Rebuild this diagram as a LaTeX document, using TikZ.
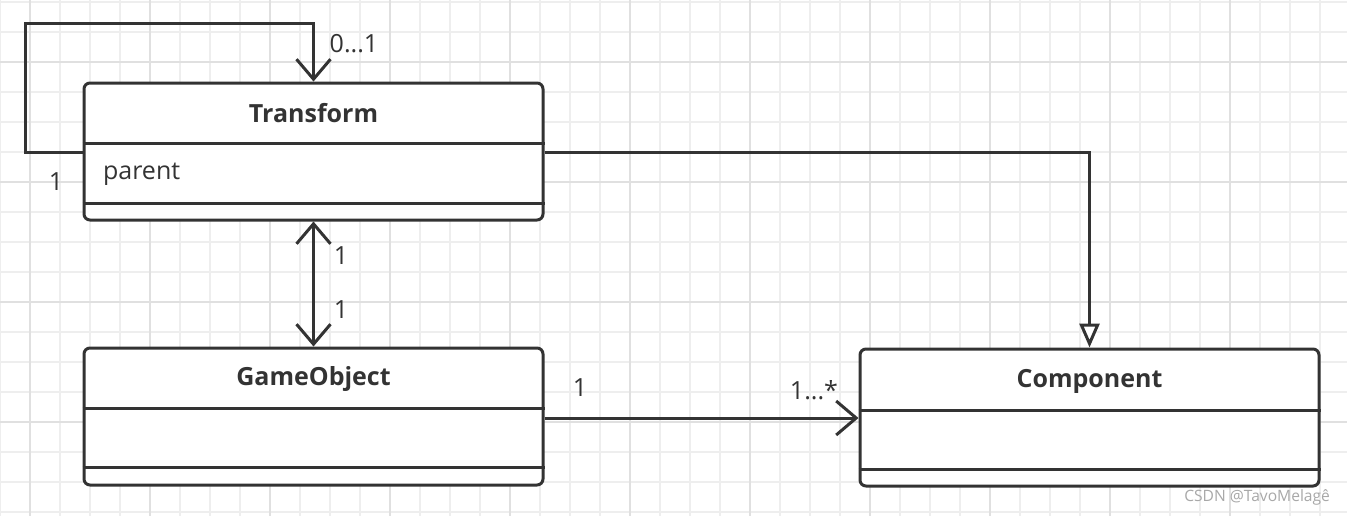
\documentclass[tikz,border=0pt]{standalone}
\usepackage{fontspec}
\setmainfont{Open Sans}
\usetikzlibrary{arrows.meta, calc}

\definecolor{umlline}{HTML}{333333}
\definecolor{gridminor}{HTML}{EEEEEE}
\definecolor{gridmajor}{HTML}{E0E0E0}
\definecolor{markgray}{HTML}{A8A8A8}

\begin{document}
\begin{tikzpicture}[
    x=0.5pt, y=-0.5pt,
    font=\fontsize{12.5}{15}\selectfont,
    classbox/.style={draw=umlline, line width=1.5pt, rounded corners=3pt, fill=white, minimum width=229.5pt, minimum height=68.5pt, inner sep=0pt},
    classname/.style={font=\fontsize{12.5}{15}\selectfont\bfseries, text=umlline},
    attr/.style={text=umlline, anchor=west},
    mult/.style={text=umlline, inner sep=1pt},
    divider/.style={draw=umlline, line width=1.5pt},
    assoc/.style={draw=umlline, line width=1.5pt, -{Straight Barb[length=10pt, width=17pt]}},
    both/.style={draw=umlline, line width=1.5pt, {Straight Barb[length=10pt, width=17pt]}-{Straight Barb[length=10pt, width=17pt]}},
    inherit/.style={draw=umlline, line width=1.5pt, -{Triangle[open, length=12pt, width=10pt, fill=white]}}
]
\useasboundingbox (0,0) rectangle (1347,516);
\fill[white] (0,0) rectangle (1347,516);

% background grid
\foreach \gx in {0,30,...,1346}
    \draw[gridminor, line width=1pt] (\gx,0) -- (\gx,516);
\foreach \gy in {2,32,...,516}
    \draw[gridminor, line width=1pt] (0,\gy) -- (1347,\gy);
\foreach \gx in {30,150,...,1346}
    \draw[gridmajor, line width=1pt] (\gx,0) -- (\gx,516);
\foreach \gy in {62,182,...,516}
    \draw[gridmajor, line width=1pt] (0,\gy) -- (1347,\gy);

% classes
\node[classbox] (transform) at (313.5,151.5) {};
\node[classname] (transformname) at (313.5,113) {Transform};
\node[attr] (parentattr) at (96,174) {parent};
\draw[divider] (transform.west |- 0,143) -- (transform.east |- 0,143);
\draw[divider] (transform.west |- 0,203) -- (transform.east |- 0,203);

\node[classbox] (gameobject) at (313.5,416.5) {};
\node[classname] (gameobjectname) at (313.5,379) {GameObject};
\draw[divider] (gameobject.west |- 0,408) -- (gameobject.east |- 0,408);
\draw[divider] (gameobject.west |- 0,467) -- (gameobject.east |- 0,467);

\node[classbox] (component) at (1089.5,417.5) {};
\node[classname] (componentname) at (1089.5,381) {Component};
\draw[divider] (component.west |- 0,410) -- (component.east |- 0,410);
\draw[divider] (component.west |- 0,469) -- (component.east |- 0,469);

% connectors
\coordinate (loopcorner) at (25,23);
\draw[assoc] (transform.west |- 0,152) -| (loopcorner) -| (transform.north);
\node[mult] at (354,44) {0...1};
\node[mult] at (56,182) {1};

\draw[inherit] (transform.east |- 0,152) -| (component.north);

\draw[both] (transform.south) -- (gameobject.north);
\node[mult] at (341,256) {1};
\node[mult] at (341,310) {1};

\draw[assoc] (gameobject.east |- 0,418) -- (component.west |- 0,418);
\node[mult] at (580,388) {1};
\node[mult] at (814,390) {1...*};

% watermark
\node[text=markgray, font=\fontsize{7.8}{10}\selectfont, anchor=east] (mark) at (1337,497) {CSDN @TavoMelagê};
\end{tikzpicture}
\end{document}
